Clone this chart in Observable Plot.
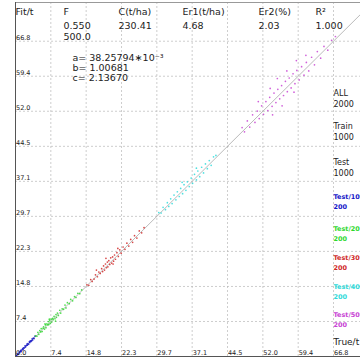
<!DOCTYPE html>
<html><head><meta charset="utf-8">
<script src="https://cdn.jsdelivr.net/npm/d3@7"></script>
<script src="https://cdn.jsdelivr.net/npm/@observablehq/plot@0.6"></script>
<style>body{margin:0;background:#fff}svg{display:block}</style>
</head><body><div id="chart"></div>
<script>
const tickValues = [0, 7.42, 14.84, 22.27, 29.69, 37.11, 44.53, 51.96, 59.38, 66.8];
const tickLabels = ["0.0","7.4","14.8","22.3","29.7","37.1","44.5","52.0","59.4","66.8"];
const xMax = 72.47, yMax = 75.0;

const blueTrue = [0.1,0.25,0.35,0.5,0.6,0.75,0.85,1.0,1.1,1.2,1.35,1.5,1.6,1.7,1.85,2.0,2.1,2.25,2.4,2.5,2.6,2.75,2.9,3.0,3.1,3.25,3.4,3.5,3.6,3.75,3.9,4.1];
const blueFit  = [0.2,0.2,0.55,0.45,0.5,0.95,0.8,1.05,1.3,1.05,1.4,1.7,1.5,1.85,1.8,2.25,2.0,2.3,2.65,2.4,2.75,2.6,3.1,2.95,3.3,3.2,3.35,3.75,3.5,3.9,3.8,4.3];
const greenTrue = [4.2,4.5,4.7,4.9,5.1,5.3,5.4,5.6,5.8,5.9,6.1,6.3,6.4,6.6,6.8,6.9,7.0,7.2,7.3,7.5,7.6,7.8,7.9,8.1,8.3,8.5,8.6,8.8,9.0,9.3,9.5,9.8,10.1,10.4,10.6,10.9,11.3,11.6,12.0,12.4,12.7,13.1,13.5,13.9,7.1,8.4,6.2];
const greenFit  = [4.4,4.3,5.1,4.7,5.5,5.2,5.9,5.3,6.0,6.3,5.8,6.7,6.1,6.9,6.7,7.4,6.8,7.6,7.0,7.9,7.3,8.1,7.8,8.5,8.0,8.9,8.3,9.2,8.7,9.8,9.2,10.1,10.0,10.9,10.3,11.4,11.2,12.1,11.8,12.7,12.5,13.4,13.3,14.1,7.9,7.5,6.9];
const redTrue = [15.0,15.4,15.8,16.1,16.5,16.8,17.2,17.5,17.8,18.1,18.3,18.5,18.7,18.9,19.1,19.3,19.4,19.6,19.8,20.0,20.2,20.4,20.6,20.8,21.0,21.3,21.6,21.9,22.2,22.6,23.0,23.4,23.8,24.2,24.6,25.0,25.5,26.0,26.5,27.0,19.0,20.5,21.5,17.0];
const redFit  = [15.2,15.1,16.3,15.9,16.4,17.3,16.9,17.9,17.6,18.6,18.0,19.2,18.3,19.6,18.8,20.0,19.0,20.3,19.5,20.9,19.8,21.1,20.2,21.5,20.6,22.0,21.2,22.6,21.9,23.2,22.7,24.0,23.4,24.8,24.2,25.6,25.1,26.6,26.2,27.3,20.8,19.6,22.9,18.3];
const cyanTrue = [30.1,30.6,31.0,31.5,31.9,32.2,32.6,32.9,33.3,33.7,34.0,34.4,34.7,35.1,35.4,35.8,36.1,36.5,36.9,37.2,37.6,38.0,38.3,38.7,39.1,39.5,39.9,40.3,40.7,41.1,41.6,42.1,35.0,38.0];
const cyanFit  = [30.5,30.4,31.6,31.1,32.6,31.8,33.4,32.4,34.2,33.2,34.9,33.9,35.6,34.5,36.4,35.2,37.0,36.0,37.8,36.7,38.6,37.4,39.3,38.1,40.1,38.9,40.8,39.8,41.5,40.5,42.3,42.6,36.9,39.9];
const magentaTrue = [47.6,48.1,48.7,49.2,49.8,50.3,50.8,51.2,51.7,52.1,52.6,53.0,53.4,53.9,54.3,54.7,55.1,55.5,55.9,56.3,56.7,57.1,57.5,57.9,58.3,58.7,59.1,59.6,60.1,60.6,61.1,61.6,62.2,62.8,63.4,64.1,64.8,65.6,66.4,67.2,51.0,53.5,55.0,57.0,59.0,61.0,58.5,56.0,54.0];
const magentaFit  = [48.5,47.6,49.9,48.6,51.2,49.6,52.0,50.4,53.1,51.3,54.0,52.1,54.9,53.0,55.8,53.8,56.6,54.6,57.4,55.3,58.3,56.1,59.0,56.9,59.9,57.8,60.6,58.6,61.4,59.6,62.3,60.5,63.4,61.8,64.6,63.2,65.7,64.9,67.0,67.8,54.0,56.8,58.9,60.5,62.7,63.8,56.0,53.1,51.2];

const groupNames = ["Test/10","Test/20","Test/30","Test/40","Test/50"];
const groupCounts = ["200","200","200","200","200"];
const groupColors = ["#1414c8","#2ed82e","#d02828","#30dada","#c844d4"];
const groupTrue = [blueTrue, greenTrue, redTrue, cyanTrue, magentaTrue];
const groupFit = [blueFit, greenFit, redFit, cyanFit, magentaFit];

const headerLabels = ["F","C(t/ha)","Er1(t/ha)","Er2(%)","R²"];
const headerValues = ["0.550","230.41","4.68","2.03","1.000"];
const headerExtra = "500.0";
const coefLines = ["a= 38.25794∗10⁻³","b= 1.00681","c= 2.13670"];
const legendNames = ["ALL","Train","Test"];
const legendCounts = ["2000","1000","1000"];
const yAxisTitle = "Fit/t", xAxisTitle = "True/t";

const ticks = tickValues.map((v,i)=>({v, label: tickLabels[i]}));
const points = [];
groupTrue.forEach((arr,g)=>arr.forEach((t,i)=>points.push({t, f: groupFit[g][i], g})));
const diag = [0, xMax];

const font = "DejaVu Sans, sans-serif";
const hdx = [48, 103, 167, 243, 300];
const legY = [88, 121, 157];
const grpY = [192, 224, 253, 282, 310];
const txt = (s, dx, dy, size, fill, weight) =>
  Plot.text([s], {frameAnchor:"top-left", text:d=>d, textAnchor:"start", dx, dy, fontSize:size, fill, fontWeight:weight||"normal", fontFamily:font});

const marks = [
  Plot.ruleX(tickValues.slice(1), {stroke:"#b8b8b8", strokeWidth:0.7, strokeDasharray:"2,2"}),
  Plot.ruleY(tickValues.slice(1), {stroke:"#b8b8b8", strokeWidth:0.7, strokeDasharray:"2,2"}),
  Plot.ruleY([yMax], {stroke:"#999", strokeWidth:1}),
  Plot.line(diag, {x:d=>d, y:d=>d, stroke:"#a8a8a8", strokeWidth:0.8}),
  Plot.dot(points, {x:"t", y:"f", r:0.85, fill:d=>groupColors[d.g], stroke:"none", fillOpacity:0.85}),
  Plot.ruleX([0], {stroke:"#555", strokeWidth:1}),
  Plot.ruleY([0], {stroke:"#555", strokeWidth:1}),
  Plot.text(ticks, {x:"v", y:0, text:"label", textAnchor:"start", dx:0.5, dy:-3.5, fontSize:6.5, fill:"#222", fontFamily:font}),
  Plot.text(ticks.slice(1), {x:0, y:"v", text:"label", textAnchor:"start", dx:0.5, dy:-3.5, fontSize:6.5, fill:"#222", fontFamily:font}),
  txt(yAxisTitle, 0, 6, 9.5, "#222")
];
headerLabels.forEach((l,i)=>{
  marks.push(txt(l, hdx[i], 6, 9.5, "#222"));
  marks.push(txt(headerValues[i], hdx[i], 20, 9.5, "#222"));
});
marks.push(txt(headerExtra, hdx[0], 31, 9.5, "#222"));
coefLines.forEach((c,i)=>marks.push(txt(c, 57, 52+i*10, 9.5, "#222")));
legendNames.forEach((n,i)=>{
  marks.push(txt(n, 318, legY[i], 8, "#222"));
  marks.push(txt(legendCounts[i], 318, legY[i]+11, 8, "#222"));
});
groupNames.forEach((n,i)=>{
  marks.push(txt(n, 318, grpY[i], 6.5, groupColors[i], "bold"));
  marks.push(txt(groupCounts[i], 318, grpY[i]+10, 6.5, groupColors[i], "bold"));
});
marks.push(txt(xAxisTitle, 318, 336, 9, "#222"));

const chart = Plot.plot({
  width:360, height:360,
  marginLeft:15, marginRight:0, marginTop:2, marginBottom:4,
  x:{domain:[0,xMax], axis:null},
  y:{domain:[0,yMax], axis:null},
  style:{background:"#fff", fontFamily:font},
  marks
});
document.getElementById("chart").appendChild(chart);
</script></body></html>
